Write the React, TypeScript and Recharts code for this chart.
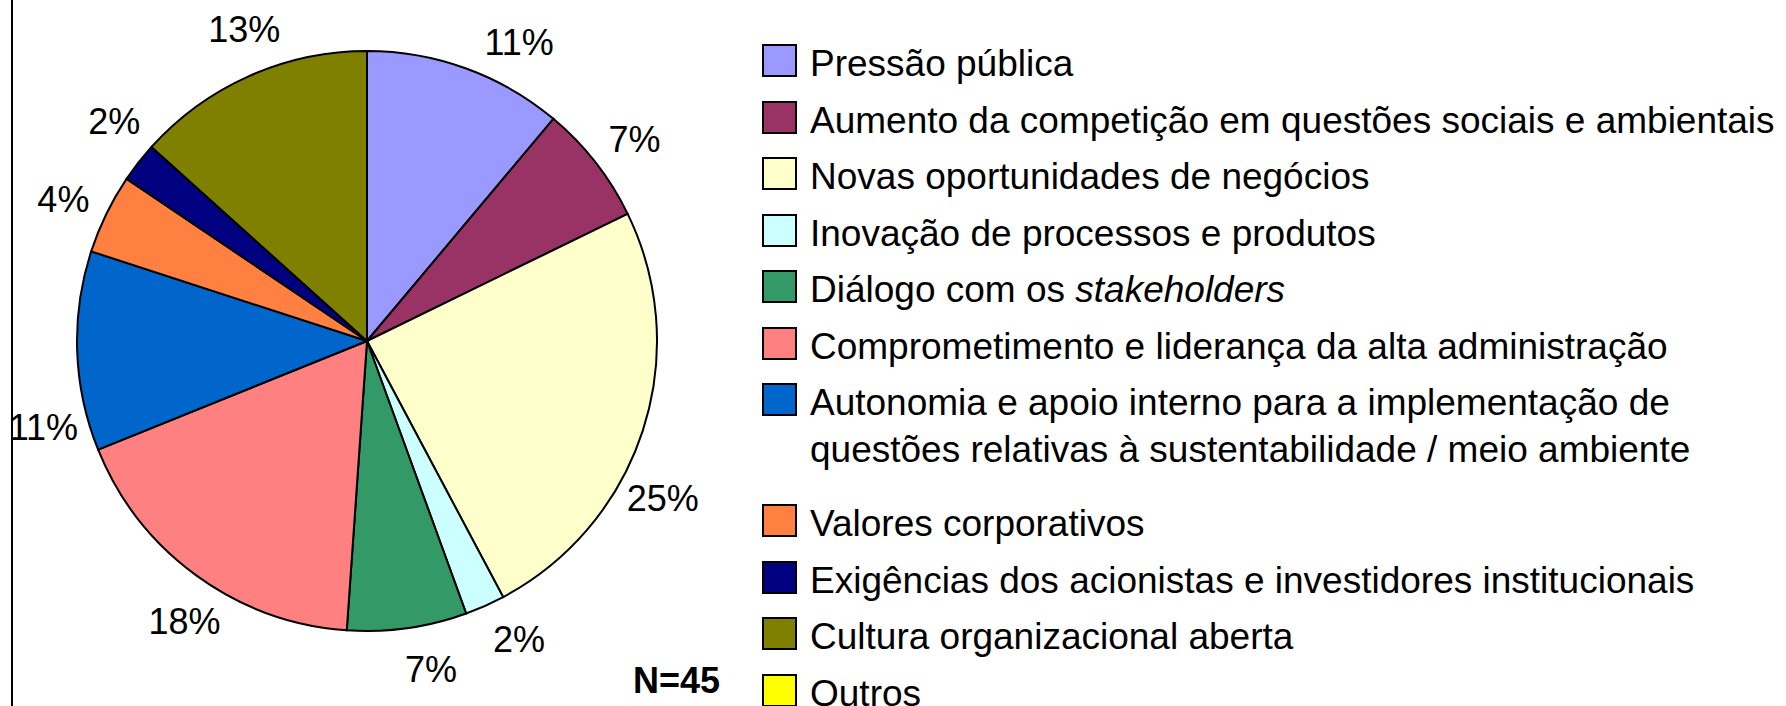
import { PieChart, Pie, Cell, Legend } from 'recharts'

const categories = [
  'Pressão pública',
  'Aumento da competição em questões sociais e ambientais',
  'Novas oportunidades de negócios',
  'Inovação de processos e produtos',
  'Diálogo com os stakeholders',
  'Comprometimento e liderança da alta administração',
  'Autonomia e apoio interno para a implementação de\nquestões relativas à sustentabilidade / meio ambiente',
  'Valores corporativos',
  'Exigências dos acionistas e investidores institucionais',
  'Cultura organizacional aberta',
  'Outros',
]
const counts = [5, 3, 11, 1, 3, 8, 5, 2, 1, 6, 0]
const percentLabels = ['11%', '7%', '25%', '2%', '7%', '18%', '11%', '4%', '2%', '13%', '0%']
const colors = [
  '#9999FF', '#993366', '#FFFFCC', '#CCFFFF', '#339966', '#FF8080',
  '#0066CC', '#FF8040', '#000080', '#808000', '#FFFF00',
]
const italicWords = ['stakeholders']

// best-fit label placement (degrees, clockwise) as in the original
const labelNudge = [7, 1, 10, -3, -3, -3, -13, -1, 3, 2.5, 0]

const FONT = '"Liberation Sans", Arial, Helvetica, sans-serif'
const RAD = Math.PI / 180

const pieData = categories
  .map((name, i) => ({ name, value: counts[i], idx: i }))
  .filter(d => d.value > 0)

function renderLabel(props: any) {
  const { cx, cy, midAngle, outerRadius, payload } = props
  const i = payload?.idx ?? props.index
  const ang = midAngle - (labelNudge[i] ?? 0)
  const r = outerRadius + 45
  const x = cx + r * Math.cos(-ang * RAD)
  const y = cy + r * Math.sin(-ang * RAD)
  return (
    <text
      x={x}
      y={y}
      textAnchor="middle"
      dominantBaseline="central"
      fontFamily={FONT}
      fontSize={36}
      fill="#000"
    >
      {percentLabels[i]}
    </text>
  )
}

function renderName(name: string) {
  const lines = name.split('\n')
  return lines.map((line, li) => {
    const word = italicWords.find(w => line.endsWith(w))
    return (
      <div key={li}>
        {word ? (
          <>
            {line.slice(0, line.length - word.length)}
            <i>{word}</i>
          </>
        ) : line}
      </div>
    )
  })
}

function LegendContent() {
  return (
    <div style={{ fontFamily: FONT, fontSize: 37, color: '#000' }}>
      {categories.map((name, i) => {
        const twoLines = name.includes('\n')
        return (
          <div
            key={name}
            style={{
              display: 'flex',
              alignItems: 'flex-start',
              height: twoLines ? 121 : 56.5,
              whiteSpace: 'nowrap',
            }}
          >
            <span
              style={{
                display: 'inline-block',
                width: 31,
                height: 29,
                marginTop: 4,
                background: colors[i],
                border: '2px solid #000',
                flex: 'none',
              }}
            />
            <div style={{ marginLeft: 13, lineHeight: '47px' }}>{renderName(name)}</div>
          </div>
        )
      })}
    </div>
  )
}

export default function App() {
  return (
    <div
      style={{
        position: 'fixed',
        left: 0,
        top: 0,
        width: 1786,
        height: 706,
        background: '#fff',
        overflow: 'hidden',
      }}
    >
      <div
        style={{
          position: 'absolute',
          left: 11,
          top: 0,
          width: 2,
          height: 706,
          background: '#000',
        }}
      />
      <PieChart width={1786} height={706} margin={{ top: 0, right: 0, bottom: 0, left: 0 }}>
        <Pie
          data={pieData}
          dataKey="value"
          nameKey="name"
          cx={367}
          cy={341}
          outerRadius={290}
          startAngle={90}
          endAngle={-270}
          stroke="#000"
          strokeWidth={2}
          label={renderLabel}
          labelLine={false}
          isAnimationActive={false}
        >
          {pieData.map(d => (
            <Cell key={d.name} fill={colors[d.idx]} />
          ))}
        </Pie>
        <Legend
          content={() => <LegendContent />}
          wrapperStyle={{ position: 'absolute', left: 762, top: 40, width: 1020 }}
        />
      </PieChart>
      <div
        style={{
          position: 'absolute',
          left: 633,
          top: 663,
          fontFamily: FONT,
          fontSize: 36,
          fontWeight: 'bold',
          lineHeight: '36px',
          color: '#000',
        }}
      >
        N=45
      </div>
    </div>
  )
}
